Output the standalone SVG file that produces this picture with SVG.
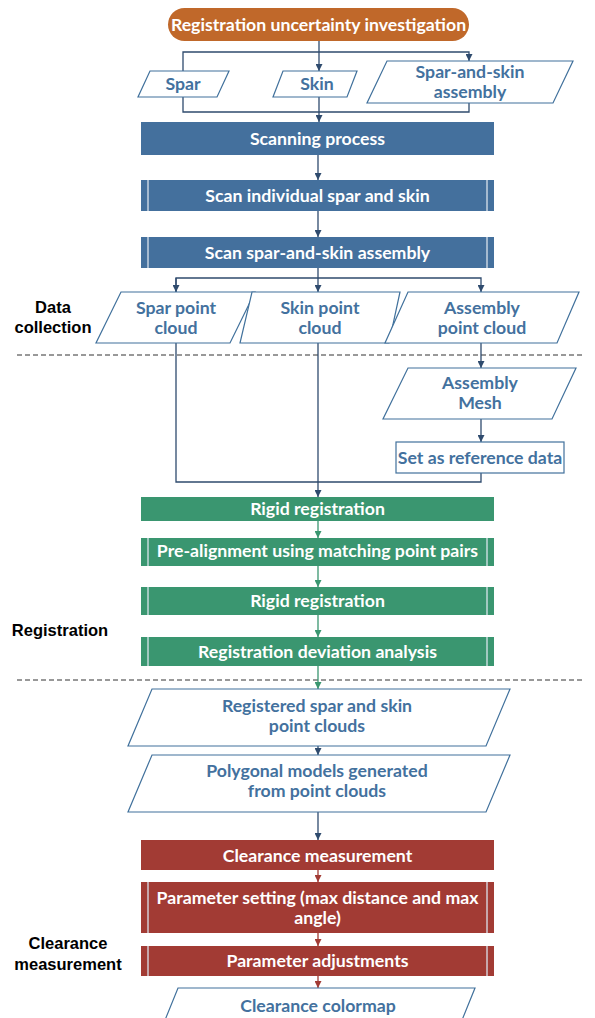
<svg xmlns="http://www.w3.org/2000/svg" width="595" height="1018" viewBox="0 0 595 1018">
<defs>
<style>
.t{font-family:Lato,"Open Sans","Liberation Sans",sans-serif;font-weight:bold;font-size:17.7px;text-anchor:middle}
.w{fill:#ffffff}
.b{fill:#43719E}
.lab{font-family:"Liberation Sans",Arial,sans-serif;font-weight:bold;font-size:16.5px;fill:#000;text-anchor:middle}
.blue{fill:#44709D}
.green{fill:#3A9670}
.red{fill:#A23B34}
.io{fill:#fff;stroke:#41719C;stroke-width:1.2}
.inner{stroke:#DCE6EF;stroke-width:1.5;opacity:0.85}
.cb{fill:none;stroke:#2F4B6E;stroke-width:1.3}
.cg{fill:none;stroke:#3A9670;stroke-width:1.3}
.cr{fill:none;stroke:#A23B34;stroke-width:1.3}
.dash{stroke:#333;stroke-width:1;stroke-dasharray:5,3}
</style>
<marker id="ab" viewBox="0 0 10 10" refX="10" refY="5" markerWidth="7" markerHeight="7" markerUnits="userSpaceOnUse" orient="auto"><path d="M0,0L10,5L0,10z" fill="#2F4B6E"/></marker>
<marker id="ag" viewBox="0 0 10 10" refX="10" refY="5" markerWidth="7" markerHeight="7" markerUnits="userSpaceOnUse" orient="auto"><path d="M0,0L10,5L0,10z" fill="#3A9670"/></marker>
<marker id="ar" viewBox="0 0 10 10" refX="10" refY="5" markerWidth="7" markerHeight="7" markerUnits="userSpaceOnUse" orient="auto"><path d="M0,0L10,5L0,10z" fill="#A23B34"/></marker>
</defs>
<rect width="595" height="1018" fill="#fff"/>

<g id="labels">
<text class="lab" x="53" y="313">Data</text>
<text class="lab" x="53" y="333">collection</text>
<text class="lab" x="60" y="636">Registration</text>
<text class="lab" x="68" y="949">Clearance</text>
<text class="lab" x="68" y="970">measurement</text>
</g>

<g id="dividers">
<line class="dash" x1="17" y1="355" x2="585" y2="355"/>
<line class="dash" x1="17" y1="680" x2="585" y2="680"/>
</g>

<g id="connectors">
<path class="cb" d="M319,41V71" marker-end="url(#ab)"/>
<path class="cb" d="M183,71V52H469V61" marker-end="url(#ab)"/>
<path class="cb" d="M183,97V112H469V103"/>
<path class="cb" d="M319,97V122" marker-end="url(#ab)"/>
<path class="cb" d="M318,155V180" marker-end="url(#ab)"/>
<path class="cb" d="M318,211V237" marker-end="url(#ab)"/>
<path class="cb" d="M318,268V292" marker-end="url(#ab)"/>
<path class="cb" d="M176,292V278H481V292" marker-end="url(#ab)"/>
<path class="cb" d="M176,278V292" marker-end="url(#ab)"/>
<path class="cb" d="M481,343V368" marker-end="url(#ab)"/>
<path class="cb" d="M481,419V442" marker-end="url(#ab)"/>
<path class="cb" d="M176,343V482H481V473"/>
<path class="cb" d="M318,343V497" marker-end="url(#ab)"/>
<path class="cg" d="M318,521V538" marker-end="url(#ag)"/>
<path class="cg" d="M318,566V587" marker-end="url(#ag)"/>
<path class="cg" d="M318,615V637" marker-end="url(#ag)"/>
<path class="cg" d="M318,666V689" marker-end="url(#ag)"/>
<path class="cb" d="M318,746V755" marker-end="url(#ab)"/>
<path class="cb" d="M318,812V840" marker-end="url(#ab)"/>
<path class="cr" d="M318,870V882" marker-end="url(#ar)"/>
<path class="cr" d="M318,933V946" marker-end="url(#ar)"/>
<path class="cr" d="M318,976V988" marker-end="url(#ar)"/>
</g>

<g id="start">
<rect x="168" y="8" width="301" height="33" rx="16.5" fill="#C0682A"/>
<text class="t w" x="318.5" y="24.5" dy="0.35em">Registration uncertainty investigation</text>
</g>

<g id="spar">
<polygon class="io" points="150,71 229,71 217,97 138,97"/>
<text class="t b" x="183" y="84" dy="0.35em">Spar</text>
</g>
<g id="skin">
<polygon class="io" points="283,71 357,71 347,97 273,97"/>
<text class="t b" x="317" y="84" dy="0.35em">Skin</text>
</g>
<g id="assembly">
<polygon class="io" points="387,61 573,61 553,103 367,103"/>
<text class="t b" x="470" y="72" dy="0.35em">Spar-and-skin</text>
<text class="t b" x="470" y="92" dy="0.35em">assembly</text>
</g>

<g id="scanning">
<rect class="blue" x="141" y="122" width="353" height="33"/>
<text class="t w" x="317.5" y="138.5" dy="0.35em">Scanning process</text>
</g>
<g id="scan-individual">
<rect class="blue" x="141" y="180" width="353" height="31"/>
<line class="inner" x1="148" y1="180" x2="148" y2="211"/>
<line class="inner" x1="487" y1="180" x2="487" y2="211"/>
<text class="t w" x="317.5" y="195.5" dy="0.35em">Scan individual spar and skin</text>
</g>
<g id="scan-assembly">
<rect class="blue" x="141" y="237" width="353" height="31"/>
<line class="inner" x1="148" y1="237" x2="148" y2="268"/>
<line class="inner" x1="487" y1="237" x2="487" y2="268"/>
<text class="t w" x="317.5" y="252.5" dy="0.35em">Scan spar-and-skin assembly</text>
</g>

<g id="spar-cloud">
<polygon class="io" points="121,292 255,292 230,343 96,343"/>
<text class="t b" x="176" y="308" dy="0.35em">Spar point</text>
<text class="t b" x="176" y="328" dy="0.35em">cloud</text>
</g>
<g id="skin-cloud">
<polygon class="io" points="252,292 400,292 389,343 240,343"/>
<text class="t b" x="320" y="308" dy="0.35em">Skin point</text>
<text class="t b" x="320" y="328" dy="0.35em">cloud</text>
</g>
<g id="assembly-cloud">
<polygon class="io" points="408,292 579,292 557,343 385,343"/>
<text class="t b" x="482" y="308" dy="0.35em">Assembly</text>
<text class="t b" x="482" y="328" dy="0.35em">point cloud</text>
</g>

<g id="assembly-mesh">
<polygon class="io" points="408,368 576,368 552,419 383,419"/>
<text class="t b" x="480" y="383" dy="0.35em">Assembly</text>
<text class="t b" x="480" y="403" dy="0.35em">Mesh</text>
</g>
<g id="reference">
<rect class="io" x="396" y="442" width="168" height="31"/>
<text class="t b" x="480" y="457.5" dy="0.35em">Set as reference data</text>
</g>

<g id="rigid1">
<rect class="green" x="141" y="497" width="353" height="24"/>
<text class="t w" x="317.5" y="509" dy="0.35em">Rigid registration</text>
</g>
<g id="prealign">
<rect class="green" x="141" y="538" width="353" height="28"/>
<line class="inner" x1="148" y1="538" x2="148" y2="566"/>
<line class="inner" x1="487" y1="538" x2="487" y2="566"/>
<text class="t w" x="317.5" y="551" dy="0.35em">Pre-alignment using matching point pairs</text>
</g>
<g id="rigid2">
<rect class="green" x="141" y="587" width="353" height="28"/>
<line class="inner" x1="148" y1="587" x2="148" y2="615"/>
<line class="inner" x1="487" y1="587" x2="487" y2="615"/>
<text class="t w" x="317.5" y="601" dy="0.35em">Rigid registration</text>
</g>
<g id="deviation">
<rect class="green" x="141" y="637" width="353" height="29"/>
<line class="inner" x1="148" y1="637" x2="148" y2="666"/>
<line class="inner" x1="487" y1="637" x2="487" y2="666"/>
<text class="t w" x="317.5" y="651.5" dy="0.35em">Registration deviation analysis</text>
</g>

<g id="registered">
<polygon class="io" points="152,689 510,689 486,746 128,746"/>
<text class="t b" x="317" y="706" dy="0.35em">Registered spar and skin</text>
<text class="t b" x="317" y="726" dy="0.35em">point clouds</text>
</g>
<g id="polygonal">
<polygon class="io" points="152,755 510,755 486,812 128,812"/>
<text class="t b" x="317" y="771" dy="0.35em">Polygonal models generated</text>
<text class="t b" x="317" y="791" dy="0.35em">from point clouds</text>
</g>

<g id="clearance">
<rect class="red" x="141" y="840" width="353" height="30"/>
<text class="t w" x="317.5" y="855.5" dy="0.35em">Clearance measurement</text>
</g>
<g id="param-setting">
<rect class="red" x="141" y="882" width="353" height="51"/>
<line class="inner" x1="148" y1="882" x2="148" y2="933"/>
<line class="inner" x1="487" y1="882" x2="487" y2="933"/>
<text class="t w" x="317.5" y="898" dy="0.35em">Parameter setting (max distance and max</text>
<text class="t w" x="317.5" y="918" dy="0.35em">angle)</text>
</g>
<g id="param-adjust">
<rect class="red" x="141" y="946" width="353" height="30"/>
<line class="inner" x1="148" y1="946" x2="148" y2="976"/>
<line class="inner" x1="487" y1="946" x2="487" y2="976"/>
<text class="t w" x="317.5" y="961" dy="0.35em">Parameter adjustments</text>
</g>
<g id="colormap">
<polygon class="io" points="178,988 475,988 458,1030 161,1030"/>
<text class="t b" x="318" y="1006" dy="0.35em">Clearance colormap</text>
</g>
</svg>
